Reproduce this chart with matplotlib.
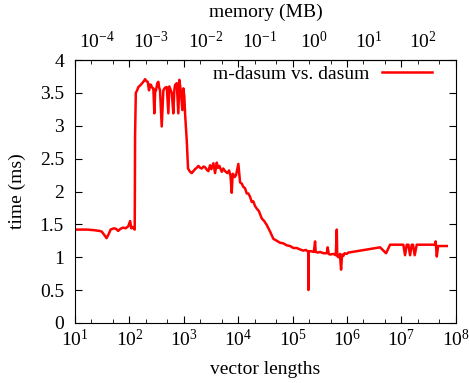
import numpy as np
import matplotlib
matplotlib.use("Agg")
import matplotlib.pyplot as plt
from matplotlib.ticker import LogLocator, NullFormatter, FixedLocator

plt.rcParams['font.family'] = ['Liberation Serif', 'DejaVu Serif']
plt.rcParams['mathtext.fontset'] = 'stix'

# vector lengths and time (ms)
lengths = [10, 13, 17, 23, 28, 31, 35, 38, 42, 45, 52, 57, 62, 68, 76, 85, 95,
           103, 108, 115, 121, 125,
           127, 131, 140, 146, 160, 180, 194, 205, 217, 229, 240, 249, 262,
           275, 287, 298, 308, 325, 340, 352, 365, 392, 420, 450, 485, 519,
           540, 557, 600, 641, 670, 689, 740, 792, 826, 877, 938, 979, 1020,
           1052, 1130, 1194,
           1300, 1396, 1500, 1607, 1720, 1848, 2000, 2135, 2300, 2455, 2650,
           2821, 3032, 3200, 3487, 3748, 4028, 4250, 4494, 4976, 5300, 5718,
           6303, 6776, 7200, 7590, 7900, 8123, 8600, 9114, 10046, 10794,
           11599, 12405, 13300, 14329, 15300, 16470, 17700, 18960, 20300,
           21878, 24000, 27040, 30000, 33420, 38440, 44180, 51030, 58660,
           67480, 78000, 89540, 103000, 118900, 135000, 155200, 175000,
           194400, 195000, 196000, 220000, 245000, 258300, 265000, 290000,
           319100, 370000, 423700, 440000, 460000, 487200, 560000, 620000,
           647300, 660000, 692600, 740000, 776000, 810000, 855300, 900000,
           986700, 1056000, 4045000, 5210000, 6170000, 10830000, 11640000,
           12500000, 13400000, 14400000, 15460000, 16300000, 17500000,
           19100000, 41500000, 42500000, 44600000, 47100000, 68000000]
times = [1.42, 1.42, 1.42, 1.41, 1.40, 1.39, 1.33, 1.29, 1.36, 1.42, 1.44,
         1.43, 1.40, 1.43, 1.45, 1.44, 1.47, 1.55, 1.44, 1.46, 1.43, 1.42,
         2.86, 3.50, 3.55, 3.59, 3.62, 3.67, 3.71, 3.68, 3.67, 3.54, 3.63,
         3.62, 3.58, 3.57, 3.19, 3.55, 3.54, 3.65, 3.67, 3.58, 3.54, 2.99,
         3.54, 3.58, 3.59, 3.19, 3.60, 3.57, 3.50, 3.19, 3.55, 3.62, 3.65,
         3.19, 3.70, 3.54, 3.24, 3.57, 3.45, 3.19, 2.78, 2.35,
         2.30, 2.28, 2.31, 2.34, 2.36, 2.39, 2.36, 2.35, 2.38, 2.37, 2.33,
         2.31, 2.40, 2.34, 2.43, 2.28, 2.44, 2.36, 2.39, 2.30, 2.35, 2.31,
         2.28, 2.32, 2.24, 1.98, 2.27, 2.26, 2.22, 2.25, 2.42, 2.14, 2.12,
         2.07, 2.05, 1.97, 1.97, 1.92, 1.84, 1.85, 1.78, 1.74, 1.70, 1.59,
         1.55, 1.49, 1.39, 1.28, 1.25, 1.22, 1.21, 1.18, 1.17, 1.14, 1.14,
         1.12, 1.10, 1.11, 1.08, 0.50, 1.09, 1.09, 1.08, 1.24, 1.08, 1.07,
         1.08, 1.06, 1.06, 1.15, 1.05, 1.04, 1.05, 1.03, 1.42, 1.02, 1.00,
         1.05, 0.81, 1.04, 1.02, 1.06, 1.05, 1.07, 1.15, 1.06, 1.19, 1.19,
         1.03, 1.19, 1.19, 1.03, 1.19, 1.19, 1.03, 1.19, 1.19, 1.24, 1.01,
         1.17, 1.17]

y_ticks = [0, 0.5, 1, 1.5, 2, 2.5, 3, 3.5, 4]
y_labels = ['0', '0.5', '1', '1.5', '2', '2.5', '3', '3.5', '4']
mem_ticks = [1e-4, 1e-3, 1e-2, 1e-1, 1e0, 1e1, 1e2]
bytes_per_elem = 4.0

fs = 14

fig = plt.figure(figsize=(4.69, 3.83), dpi=100)
ax = fig.add_axes([0.160, 0.157, 0.812, 0.686])

ax.plot(lengths, times, color='red', lw=1.8, label='m-dasum vs. dasum')

ax.set_xscale('log')
ax.set_xlim(10, 1e8)
ax.set_ylim(0, 4)
ax.yaxis.set_major_locator(FixedLocator(y_ticks))
ax.set_yticklabels(y_labels)
ax.xaxis.set_major_locator(LogLocator(base=10, numticks=20))
ax.xaxis.set_minor_locator(LogLocator(base=10, subs=(2, 5), numticks=20))
ax.xaxis.set_minor_formatter(NullFormatter())

ax.tick_params(which='both', direction='in', top=True, right=True,
               labelsize=fs, colors='black')
ax.tick_params(which='major', length=5, width=0.8)
ax.tick_params(which='minor', length=3, width=0.6)
ax.tick_params(axis='x', pad=4)
ax.tick_params(axis='y', pad=8)

ax.set_xlabel('vector lengths', fontsize=fs, labelpad=8)
ax.set_ylabel('time (ms)', fontsize=fs, labelpad=10)

top = ax.secondary_xaxis('top', functions=(lambda n: n * bytes_per_elem / 1e6,
                                             lambda m: m * 1e6 / bytes_per_elem))
top.xaxis.set_major_locator(FixedLocator(mem_ticks))
top.xaxis.set_minor_locator(plt.NullLocator())
top.tick_params(direction='in', length=0, labelsize=fs, pad=6)
top.set_xlabel('memory (MB)', fontsize=fs, labelpad=10)

for s in ax.spines.values():
    s.set_linewidth(0.8)

ax.legend(loc='upper right', bbox_to_anchor=(0.958, 1.01), frameon=False,
          fontsize=fs, handlelength=2.6, markerfirst=False, borderaxespad=0,
          handletextpad=0.6)

fig.savefig('out.png', dpi=100)
